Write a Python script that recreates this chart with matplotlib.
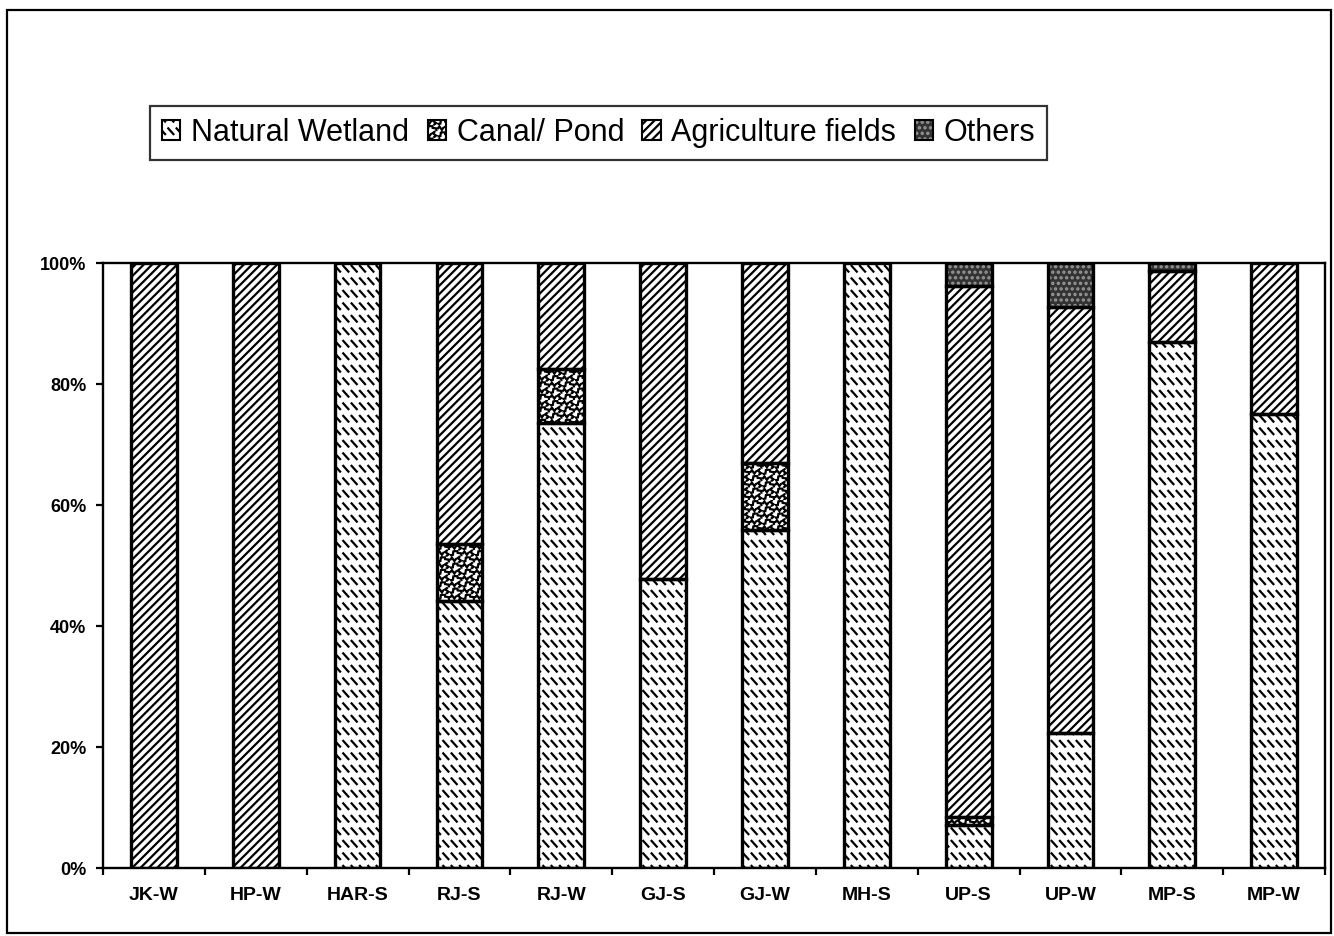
import warnings
import numpy as np
import matplotlib
matplotlib.use("Agg")
import matplotlib.pyplot as plt
import matplotlib.hatch as mhatch
from matplotlib.path import Path
from matplotlib.patches import Patch, Rectangle
from matplotlib.ticker import FixedLocator, PercentFormatter

warnings.filterwarnings("ignore", category=matplotlib.MatplotlibDeprecationWarning)

# ---- data -------------------------------------------------------------
categories = ['JK-W', 'HP-W', 'HAR-S', 'RJ-S', 'RJ-W', 'GJ-S',
              'GJ-W', 'MH-S', 'UP-S', 'UP-W', 'MP-S', 'MP-W']
natural_wetland = [0, 0, 100, 44.1, 73.5, 47.8, 55.8, 100, 7.1, 22.4, 87.0, 75.1]
canal_pond      = [0, 0, 0, 9.5, 9.0, 0, 11.1, 0, 1.4, 0, 0, 0]
agriculture     = [100, 100, 0, 46.4, 17.5, 52.2, 33.1, 0, 87.7, 70.3, 11.7, 24.9]
others          = [0, 0, 0, 0, 0, 0, 0, 0, 3.8, 7.3, 1.3, 0]
series_names = ['Natural Wetland', 'Canal/ Pond', 'Agriculture fields', 'Others']
y_ticks = [0, 20, 40, 60, 80, 100]


# ---- fill patterns ----------------------------------------------------
class DashRowHatch(mhatch.HatchPatternBase):
    """Rows of short back-slanted strokes, one set per 'w'."""
    def __init__(self, hatch, density):
        n = hatch.count('w')
        self.rows = 8 * n
        self.cols = 12 * n
        self.num_lines = self.rows * self.cols
        self.num_vertices = self.num_lines * 2

    def set_vertices_and_codes(self, vertices, codes):
        dx = 1.0 / self.cols
        dy = 1.0 / self.rows
        w, h = 0.62 * dx, 0.46 * dy
        k = 0
        for r in range(self.rows):
            y0 = (r + 0.5) * dy
            for c in range(self.cols):
                x0 = (c + 0.19) * dx
                vertices[k] = (x0, y0 + h / 2)
                vertices[k + 1] = (x0 + w, y0 - h / 2)
                k += 2
        codes[0::2] = Path.MOVETO
        codes[1::2] = Path.LINETO


class SquiggleHatch(mhatch.HatchPatternBase):
    """Dense little worm-like curls, one set per 'c'."""
    shapes = [
        [(-1, 0), (-0.5, 0.7), (0, 0), (0.5, -0.7), (1, 0)],
        [(0, -1), (0.7, -0.5), (0, 0), (-0.7, 0.5), (0, 1)],
        [(-0.8, -0.8), (-0.1, -0.7), (0, 0), (0.1, 0.7), (0.8, 0.8)],
        [(-0.8, 0.8), (-0.7, 0.1), (0, 0), (0.7, -0.1), (0.8, -0.8)],
    ]

    def __init__(self, hatch, density):
        n = hatch.count('c')
        self.cells = 16 * n
        self.num_vertices = self.cells * self.cells * 5

    def set_vertices_and_codes(self, vertices, codes):
        d = 1.0 / self.cells
        s = 0.4 * d
        k = 0
        for i in range(self.cells):
            for j in range(self.cells):
                cx, cy = (i + 0.5) * d, (j + 0.5) * d
                shape = self.shapes[(i + 2 * j) % 4]
                vertices[k:k + 5] = [(cx + s * px, cy + s * py) for px, py in shape]
                codes[k] = Path.MOVETO
                codes[k + 1:k + 5] = Path.LINETO
                k += 5


mhatch._hatch_types.extend([DashRowHatch, SquiggleHatch])

plt.rcParams['hatch.linewidth'] = 1.6
plt.rcParams['font.family'] = ['Liberation Sans', 'DejaVu Sans']

styles = [
    dict(facecolor='white', hatchcolor='black', hatch='w'),
    dict(facecolor='white', hatchcolor='black', hatch='c'),
    dict(facecolor='white', hatchcolor='black', hatch='////'),
    dict(facecolor='#333333', hatchcolor='#9a9a9a', hatch='...'),
]

# ---- figure -----------------------------------------------------------
fig = plt.figure(figsize=(13.34, 9.36), dpi=100)
ax = fig.add_axes([0.0772, 0.0726, 0.9161, 0.6464])

x = np.arange(len(categories))
bar_w = 0.45
values = [natural_wetland, canal_pond, agriculture, others]
bottom = np.zeros(len(categories))
for vals, st in zip(values, styles):
    vals = np.asarray(vals, dtype=float)
    keep = vals > 0
    ax.bar(x[keep], vals[keep], bar_w, bottom=bottom[keep],
           facecolor=st['facecolor'], edgecolor=st['hatchcolor'],
           hatch=st['hatch'], linewidth=0, zorder=2)
    ax.bar(x[keep], vals[keep], bar_w, bottom=bottom[keep],
           fill=False, edgecolor='black', linewidth=2.4, zorder=3)
    bottom += vals

ax.set_xlim(-0.5, len(categories) - 0.5)
ax.set_ylim(0, 100)
ax.yaxis.set_major_locator(FixedLocator(y_ticks))
ax.yaxis.set_major_formatter(PercentFormatter(decimals=0))
ax.set_xticks(x)
ax.set_xticklabels(categories)
ax.xaxis.set_minor_locator(FixedLocator(np.arange(len(categories) + 1) - 0.5))

for sp in ax.spines.values():
    sp.set_linewidth(1.7)
ax.tick_params(axis='y', which='major', direction='out', length=5, width=1.6,
               pad=7, labelsize=13)
ax.tick_params(axis='x', which='major', length=0, pad=14, labelsize=14)
ax.tick_params(axis='x', which='minor', direction='out', length=5, width=1.6)
for lab in ax.get_xticklabels() + ax.get_yticklabels():
    lab.set_fontweight('bold')

# ---- legend -----------------------------------------------------------
handles = []
for st in styles:
    fill = Patch(facecolor=st['facecolor'], edgecolor=st['hatchcolor'],
                 hatch=st['hatch'], linewidth=0)
    outline = Patch(fill=False, edgecolor='black', linewidth=1.5)
    handles.append((fill, outline))
leg = fig.legend(handles, series_names, loc='center left',
                 bbox_to_anchor=(0.1124, 0.858), ncol=4, frameon=True,
                 fancybox=False, edgecolor='black', fontsize=22,
                 handlelength=0.6, handleheight=0.6, handletextpad=0.35,
                 columnspacing=0.6, borderpad=0.4, borderaxespad=0)
leg.get_frame().set_linewidth(1.6)

# outer border
fig.patches.append(Rectangle((0.005, 0.003), 0.993, 0.986, transform=fig.transFigure,
                             fill=False, edgecolor='black', linewidth=1.6))

fig.savefig('out.png', dpi=100)
